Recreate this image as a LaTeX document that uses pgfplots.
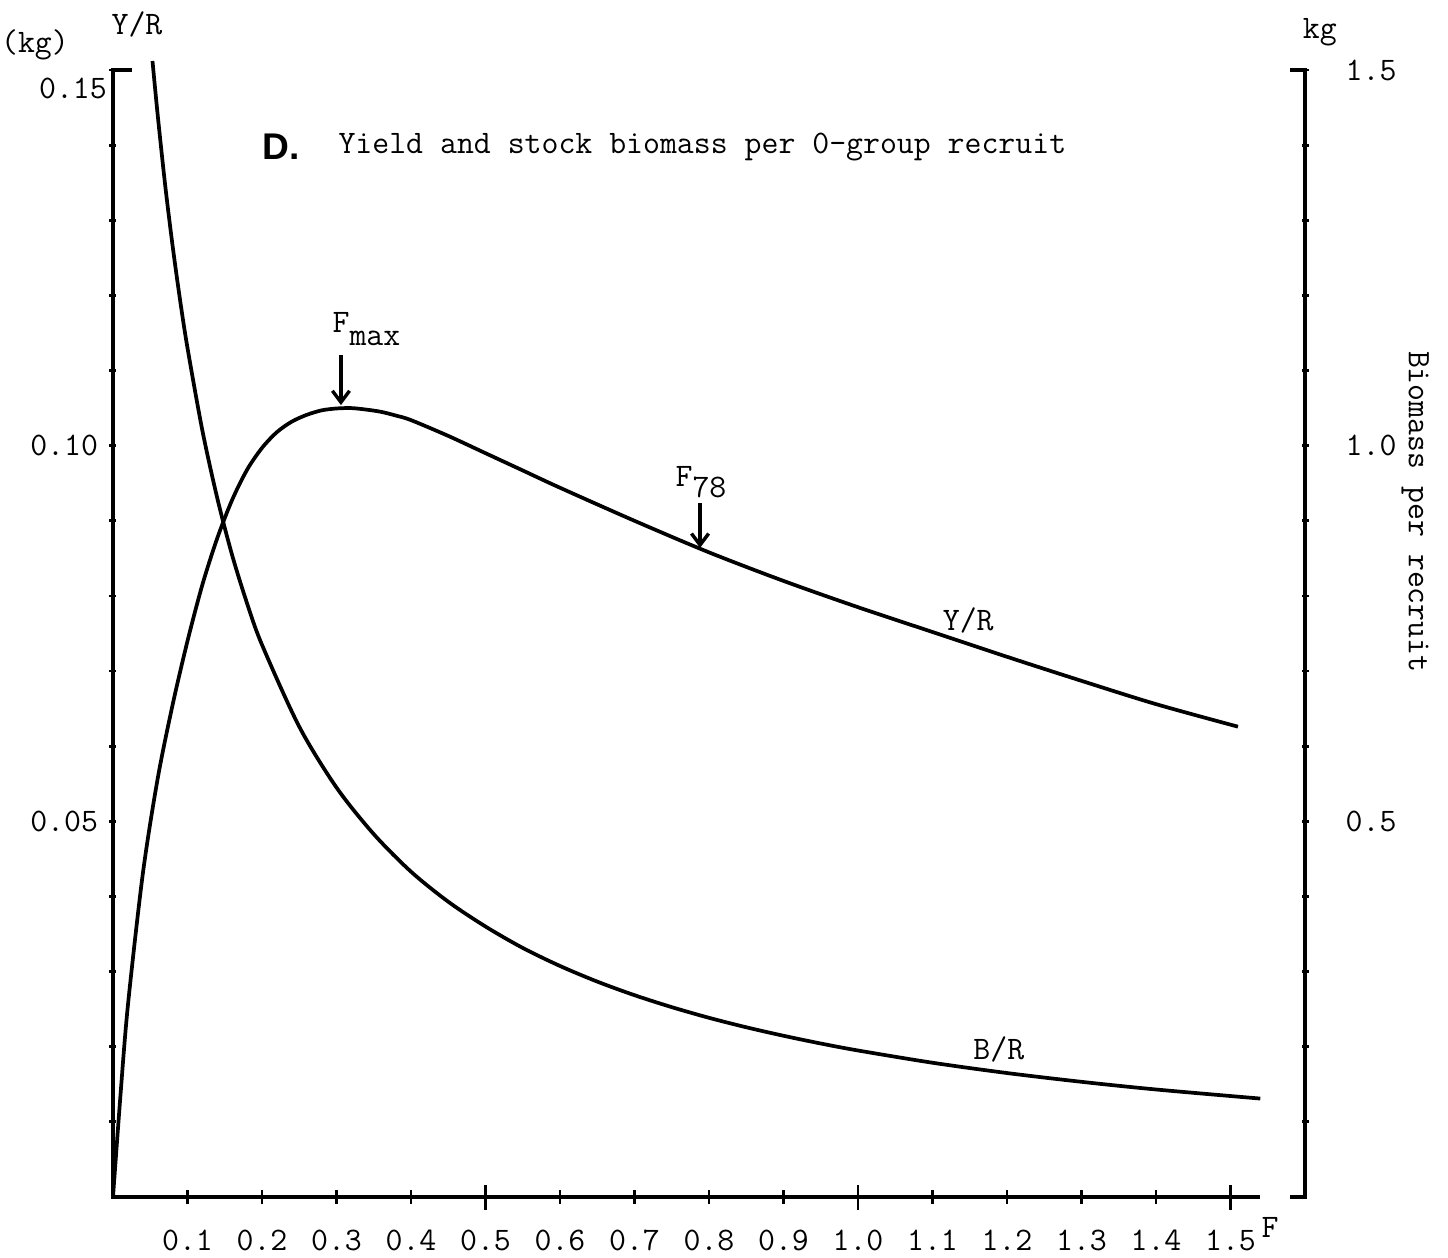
\documentclass[border=0pt]{standalone}
\usepackage{fontspec}
\newfontfamily\dfont{Liberation Sans}
\usepackage{pgfplots}
\pgfplotsset{compat=1.18}
\usepackage{pgfplotstable}
\usetikzlibrary{arrows.meta}

\pgfplotstableread{
F YR
0 0
0.01 0.0135
0.02 0.0255
0.04 0.0430
0.06 0.0557
0.08 0.0655
0.10 0.0740
0.12 0.0815
0.14 0.0877
0.16 0.0928
0.18 0.0968
0.20 0.0997
0.22 0.1018
0.24 0.1032
0.26 0.1041
0.28 0.1047
0.30 0.10495
0.32 0.1050
0.34 0.1048
0.36 0.1045
0.38 0.1040
0.40 0.1034
0.45 0.1013
0.50 0.0990
0.55 0.0967
0.60 0.0944
0.70 0.0900
0.80 0.0858
0.90 0.0820
1.00 0.0785
1.10 0.0752
1.20 0.0719
1.30 0.0687
1.40 0.0656
1.51 0.0626
}\yrtable

\pgfplotstableread{
F BR
0.053 1.512
0.06 1.440
0.07 1.347
0.08 1.266
0.09 1.194
0.10 1.130
0.12 1.020
0.14 0.930
0.16 0.854
0.18 0.790
0.20 0.735
0.25 0.626
0.30 0.545
0.35 0.483
0.40 0.433
0.45 0.393
0.50 0.360
0.55 0.3315
0.60 0.3075
0.65 0.2867
0.70 0.2686
0.75 0.2527
0.80 0.2385
0.85 0.2259
0.90 0.2146
0.95 0.2043
1.00 0.1950
1.10 0.1787
1.20 0.1650
1.30 0.1533
1.40 0.1431
1.54 0.1310
}\brtable

\begin{document}
\ttfamily\fontsize{11.5}{13}\selectfont
\begin{tikzpicture}
\useasboundingbox (-39.55pt,-21pt) rectangle (467.25pt,418.95pt);
\pgfplotsset{base/.style={at={(0,0)}, anchor=south west, width=417.2pt, height=394.45pt,
  scale only axis, xmin=0, xmax=1.6, clip=false, tick align=inside,
  axis line style={draw=none,-},
  every tick/.style={black, line width=1pt},
  every minor tick/.style={black, line width=1pt},
  tick label style={font=\ttfamily\fontsize{11.5}{13}\selectfont}}}

% x axis and Y/R curve
\begin{axis}[base, ymin=0, ymax=0.15, axis x line=bottom, axis y line=none, ytick=\empty,
  xtick={0.1,0.2,0.3,0.4,0.5,0.6,0.7,0.8,0.9,1.0,1.1,1.2,1.3,1.4,1.5},
  xticklabels={0.1,0.2,0.3,0.4,0.5,0.6,0.7,0.8,0.9,1.0,1.1,1.2,1.3,1.4,1.5},
  major tick length=4.9pt,
  extra x ticks={0.5,1.0,1.5}, extra x tick labels={},
  extra x tick style={major tick length=8.75pt},
  xticklabel style={yshift=-5pt}]
\addplot[black, line width=1.3pt, smooth] table[x=F, y=YR] {\yrtable};
% frame lines
\draw[line width=1.4pt] (axis cs:0.025,0.15) -- (axis cs:0,0.15) -- (axis cs:0,0) -- (axis cs:1.54,0);
\draw[line width=1.4pt] (axis cs:1.58,0.15) -- (axis cs:1.6,0.15) -- (axis cs:1.6,0) -- (axis cs:1.58,0);
% annotations
\node at (axis cs:-0.1047,0.1533) {(kg)};
\node at (axis cs:0.0322,0.156) {Y/R};
\node at (axis cs:1.620,0.155) {kg};
\node at (axis cs:-0.0537,0.1476) {0.15};
\node[rotate=-90] at (axis cs:1.748,0.0912) {Biomass per recruit};
\node[anchor=west, inner sep=0pt] at (axis cs:0.200,0.1398) {\dfont\fontsize{13}{15}\selectfont\bfseries D.};
\node[anchor=west, inner sep=0pt] at (axis cs:0.302,0.1398) {Yield and stock biomass per 0-group recruit};
\node[anchor=base west, inner sep=0pt] at (axis cs:0.294,0.1150) {F\raisebox{-4.5pt}{max}};
\draw[line width=1.2pt, -{Straight Barb[length=4pt,width=6pt]}] (axis cs:0.306,0.1121) -- (axis cs:0.306,0.1054);
\node[anchor=base west, inner sep=0pt] at (axis cs:0.7544,0.0946) {F\raisebox{-3.8pt}{78}};
\draw[line width=1.2pt, -{Straight Barb[length=4pt,width=6pt]}] (axis cs:0.788,0.0924) -- (axis cs:0.788,0.0864);
\node at (axis cs:1.148,0.0767) {Y/R};
\node at (axis cs:1.189,0.0197) {B/R};
\node at (axis cs:1.553,-0.0041) {F};
\end{axis}

% left y axis
\begin{axis}[base, ymin=0, ymax=0.15, axis y line=left, axis x line=none, xtick=\empty,
  ytick={0.05,0.10,0.15}, yticklabels={0.05,0.10,{}},
  minor ytick={0.01,0.02,0.03,0.04,0.06,0.07,0.08,0.09,0.11,0.12,0.13,0.14},
  major tick length=2.45pt, minor tick length=2.45pt]
\end{axis}

% right y axis and B/R curve
\begin{axis}[base, ymin=0, ymax=1.5, axis y line=right, axis x line=none, xtick=\empty,
  ytick={0.5,1.0,1.5}, yticklabels={0.5,1.0,1.5},
  minor ytick={0.1,0.2,0.3,0.4,0.6,0.7,0.8,0.9,1.1,1.2,1.3,1.4},
  yticklabel style={xshift=9pt},
  major tick length=2.45pt, minor tick length=2.45pt]
\addplot[black, line width=1.3pt, smooth] table[x=F, y=BR] {\brtable};
\end{axis}
\end{tikzpicture}
\end{document}
